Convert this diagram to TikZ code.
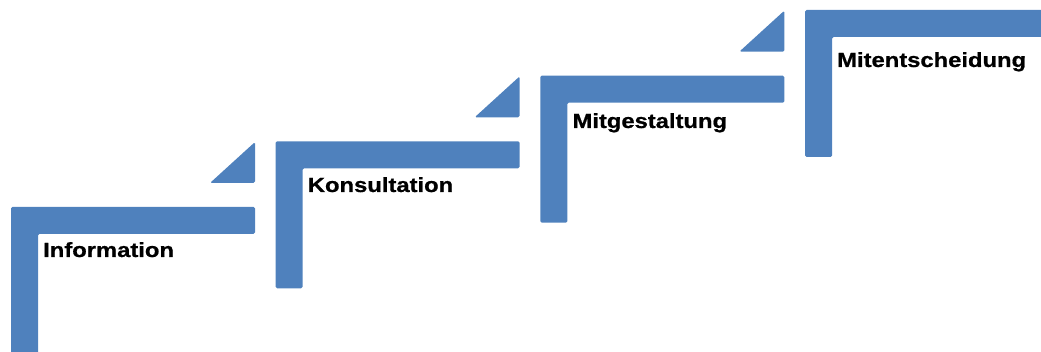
\documentclass[tikz,border=0pt]{standalone}
\usepackage{fontspec}
\usepackage{tikz}
\newfontfamily\stepfont[FakeStretch=1.16,FakeBold=0.8]{Liberation Sans}
\definecolor{stairblue}{HTML}{4F81BD}

\begin{document}
\begin{tikzpicture}[x=1pt,y=1pt,
  stairbar/.style = {fill=stairblue, rounded corners=1.5pt},
  stairlabel/.style = {anchor=base west, inner sep=0pt, text=black,
    font=\stepfont\bfseries\fontsize{20.5}{24}\selectfont}]
\useasboundingbox (0,0) rectangle (1041,352);
\clip (0,0) rectangle (1041,352);
% the four steps
\foreach \i in {0,...,3} {
    \pgfmathsetmacro{\sx}{11+264.67*\i}
    \pgfmathsetmacro{\sy}{145+65.67*\i}
    \fill[stairbar] (\sx,\sy-147) -- (\sx,\sy) -- (\sx+244,\sy) -- (\sx+244,\sy-27)
        -- (\sx+27,\sy-27) -- (\sx+27,\sy-147) -- cycle;
}
% small wedges up to the next step
\foreach \i in {0,...,2} {
    \pgfmathsetmacro{\sx}{255+264.67*\i}
    \pgfmathsetmacro{\sy}{145+65.67*\i}
    \fill[stairbar] (\sx,\sy+65) -- (\sx,\sy+24) -- (\sx-45,\sy+24) -- cycle;
}
\foreach \i/\word/\base in {0/Information/95,1/Konsultation/160,2/Mitgestaltung/224,3/Mitentscheidung/285}
    \node[stairlabel] (label\i) at (43+264.67*\i,\base) {\word};
\end{tikzpicture}
\end{document}
